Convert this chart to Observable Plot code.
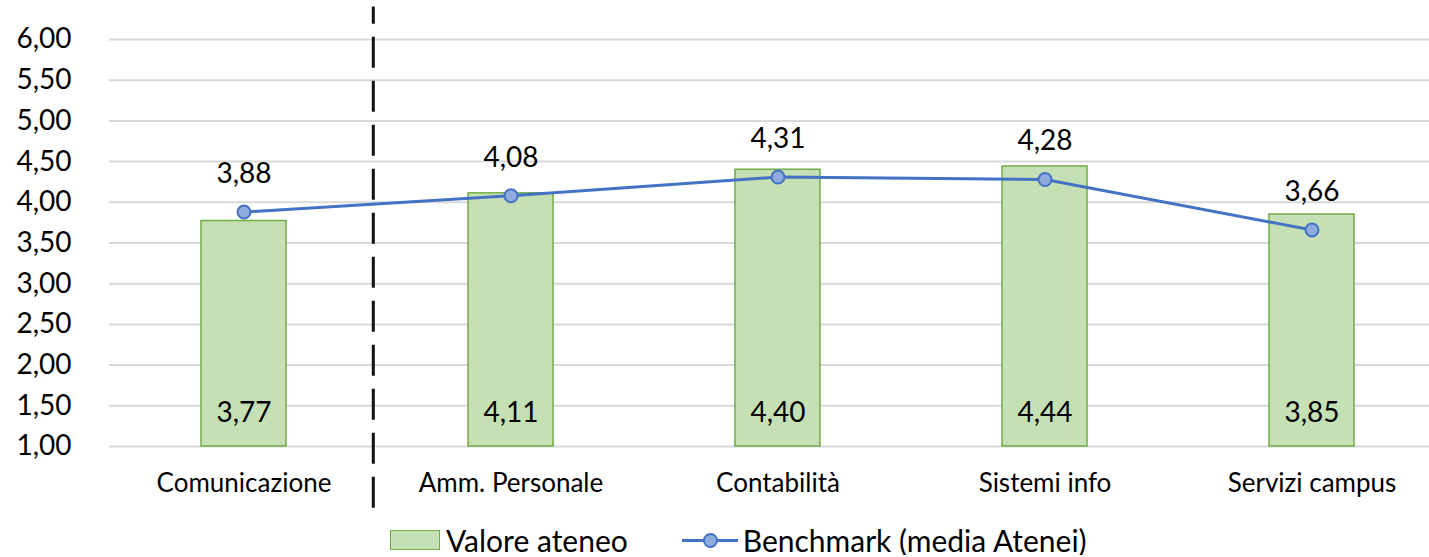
<!DOCTYPE html>
<html><head><meta charset="utf-8">
<script src="https://cdn.jsdelivr.net/npm/d3@7"></script>
<script src="https://cdn.jsdelivr.net/npm/@observablehq/plot@0.6"></script>
<style>
body{margin:0;background:#fff;font-family:Lato,sans-serif;overflow:hidden;}
#chart svg{display:block;}
#legend{display:flex;align-items:center;height:30px;line-height:30px;margin-top:10px;padding-left:390px;font-size:30px;color:#000;white-space:nowrap;}
#legend .sw{display:inline-block;width:48px;height:18px;background:#C5E0B4;border:1.5px solid #70AD47;margin-right:6px;}
#legend .ln{position:relative;display:inline-block;width:56px;height:20px;margin-left:54px;margin-right:5px;}
#legend .ln:before{content:"";position:absolute;left:0;right:0;top:9px;height:3px;background:#4472C4;}
#legend .ln:after{content:"";position:absolute;left:21px;top:3px;width:11px;height:11px;border-radius:50%;background:#8FAADC;border:2px solid #4472C4;}
</style></head><body>
<div id="chart"></div>
<div id="legend"><span class="sw"></span><span>Valore ateneo</span><span class="ln"></span><span>Benchmark (media Atenei)</span></div>
<script>
const categories = ["Comunicazione","Amm. Personale","Contabilità","Sistemi info","Servizi campus"];
const valoreAteneo = [3.77,4.11,4.40,4.44,3.85];
const benchmark = [3.88,4.08,4.31,4.28,3.66];
const yTicks = [1,1.5,2,2.5,3,3.5,4,4.5,5,5.5,6];
const dividerBefore = ["Amm. Personale"];

const data = categories.map((c,i)=>({cat:c, val:valoreAteneo[i], bench:benchmark[i]}));
const fmt = v => d3.format(".2f")(v).replace(".", ",");

const W = 1429, H = 515, mL = 109, mT = 39, mB = 69;
const xRange = [mL, 1446];
const step = (xRange[1]-xRange[0]) / categories.length;

const chart = Plot.plot({
  width: W, height: H,
  marginLeft: mL, marginRight: 0, marginTop: mT, marginBottom: mB,
  style: {fontFamily: "Lato, sans-serif", background: "#fff", color: "#000"},
  x: {domain: categories, range: xRange, paddingInner: 0.68, paddingOuter: 0.34, axis: null},
  y: {domain: [1, 6], axis: null},
  marks: [
    Plot.ruleY(yTicks, {y: d => d, stroke: "#D9D9D9", strokeWidth: 2}),
    Plot.text(yTicks, {y: d => d, text: d => fmt(d), frameAnchor: "left", textAnchor: "end", dx: -38, fontSize: 28, fill: "#000"}),
    Plot.barY(data, {x: "cat", y1: 1, y2: "val", fill: "#C5E0B4", stroke: "#70AD47", strokeWidth: 1.5}),
    Plot.text(data, {x: "cat", y: 1, text: d => fmt(d.val), dy: -33, lineAnchor: "middle", fontSize: 28, fill: "#000"}),
    Plot.text(data, {x: "cat", y: 1, text: "cat", dy: 37, lineAnchor: "middle", fontSize: 26, fill: "#000"}),
    Plot.ruleX(dividerBefore, {x: d => d, y1: 0.24, y2: 6.4, dx: -step/2 - 4, stroke: "#111", strokeWidth: 3, strokeDasharray: "31,13", clip: false}),
    Plot.line(data, {x: "cat", y: "bench", stroke: "#4472C4", strokeWidth: 3}),
    Plot.dot(data, {x: "cat", y: "bench", r: 6.5, fill: "#8FAADC", stroke: "#4472C4", strokeWidth: 2}),
    Plot.text(data, {x: "cat", y: "bench", text: d => fmt(d.bench), dy: -38, lineAnchor: "middle", fontSize: 28, fill: "#000"})
  ]
});
document.getElementById("chart").appendChild(chart);
</script>
</body></html>
